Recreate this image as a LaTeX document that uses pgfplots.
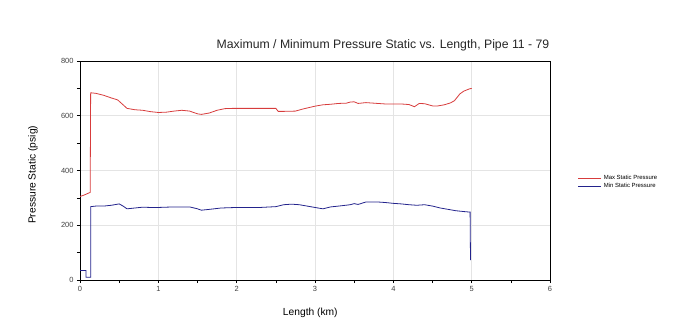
\documentclass[border=0pt]{standalone}
\usepackage{pgfplots}
\pgfplotsset{compat=1.18}
\usepackage{fontspec}
\setmainfont{Liberation Sans}
\definecolor{maxred}{RGB}{215,60,60}
\definecolor{minblue}{RGB}{35,35,140}
\definecolor{gridgray}{RGB}{228,228,228}
\begin{document}
\begin{tikzpicture}
\path[use as bounding box] (0bp,0bp) rectangle (687bp,321bp);
\node[font=\fontsize{12.3}{14}\selectfont, text=black!85] at (383bp,276bp) {Maximum / Minimum Pressure Static vs. Length, Pipe 11 - 79};
\begin{axis}[
  scale only axis,
  width=470bp, height=219bp,
  at={(80bp,41bp)}, anchor=south west,
  xmin=0, xmax=6, ymin=0, ymax=800,
  xtick={0,1,2,3,4,5,6},
  ytick={0,200,400,600,800},
  minor xtick={0.5,1.5,2.5,3.5,4.5,5.5},
  minor ytick={100,300,500,700},
  tick align=outside,
  major tick length=3bp, minor tick length=3bp,
  xtick pos=bottom, ytick pos=left,
  grid=major,
  major grid style={gridgray, line width=0.6pt},
  axis line style={black, line width=0.7pt},
  tick style={black, line width=0.6pt},
  /pgf/number format/assume math mode=true,
  ticklabel style={font=\fontsize{7.5}{9}\selectfont, text=black!75},
  xlabel={Length (km)},
  ylabel={Pressure Static (psig)},
  label style={font=\fontsize{10.3}{12}\selectfont},
  xlabel style={at={(axis description cs:0.49,-0.15)}, anchor=center},
  ylabel style={at={(axis description cs:-0.1,0.48)}, anchor=center},
  legend style={at={(rel axis cs:1.057,0.447)}, anchor=west, draw=none, fill=none,
    font=\fontsize{6}{7}\selectfont, row sep=-1.5bp, inner sep=1bp},
  legend cell align=left,
  legend image code/.code={\draw[#1] (0bp,0bp) -- (23bp,0bp);},
]
\addplot[maxred, line width=0.8pt] coordinates {
(0,305)(0.05,310)(0.13,320)(0.136,684)(0.2,682)(0.3,675)(0.4,665)(0.48,658)
(0.55,640)(0.6,627)(0.7,622)(0.8,620)(0.9,615)(1.0,612)(1.1,613)(1.2,617)
(1.3,620)(1.4,617)(1.45,612)(1.5,607)(1.55,605)(1.65,610)(1.75,620)(1.85,626)
(1.95,627)(2.2,627)(2.5,627)(2.53,616)(2.6,616)(2.75,617)(2.85,625)(3.0,635)
(3.1,640)(3.2,642)(3.3,645)(3.4,646)(3.45,650)(3.5,651)(3.55,645)(3.65,648)
(3.8,645)(3.9,643)(4.0,643)(4.1,643)(4.2,641)(4.27,633)(4.33,645)(4.4,644)
(4.5,636)(4.57,636)(4.65,640)(4.73,647)(4.78,655)(4.85,680)(4.9,690)(4.97,698)(5.0,700)
};
\addlegendentry{Max Static Pressure}
\addplot[minblue, line width=0.8pt] coordinates {
(0,35)(0.077,35)(0.077,10)(0.136,10)(0.136,268)(0.2,270)(0.3,270)(0.4,273)
(0.5,278)(0.55,270)(0.6,260)(0.7,263)(0.8,266)(0.9,265)(1.0,265)(1.2,267)
(1.4,267)(1.5,260)(1.55,255)(1.65,258)(1.8,263)(2.0,265)(2.3,265)(2.5,268)
(2.6,275)(2.7,277)(2.8,275)(2.9,270)(3.0,265)(3.1,260)(3.2,267)(3.3,270)
(3.45,275)(3.5,279)(3.55,276)(3.65,285)(3.8,285)(3.9,283)(4.0,280)(4.1,278)
(4.2,275)(4.3,273)(4.4,275)(4.5,270)(4.6,263)(4.7,258)(4.8,253)(4.9,250)
(4.98,248)(4.985,73)
};
\addlegendentry{Min Static Pressure}
\end{axis}
\end{tikzpicture}
\end{document}
